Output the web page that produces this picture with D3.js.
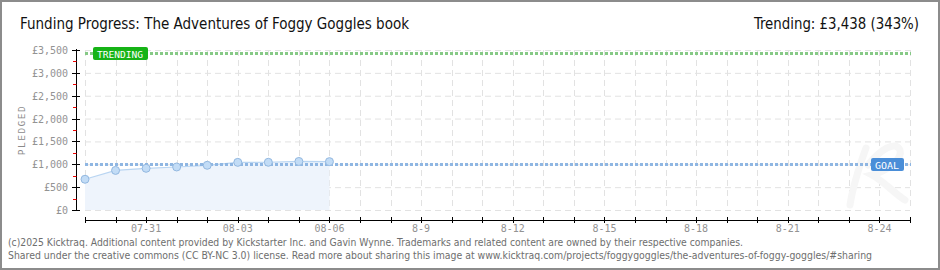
<!DOCTYPE html>
<html>
<head>
<meta charset="utf-8">
<script src="https://cdn.jsdelivr.net/npm/d3@7"></script>
<style>
  html, body { margin: 0; padding: 0; background: #fff; }
  svg { display: block; }
  .tick-label { font-family: "DejaVu Sans Mono", monospace; font-size: 10px; fill: #939393; }
</style>
</head>
<body>
<svg id="chart" width="940" height="270"></svg>
<script>
// Chart data.
const dates       = [ '2025-07-29', '2025-07-30', '2025-07-31', '2025-08-01', '2025-08-02',
                      '2025-08-03', '2025-08-04', '2025-08-05', '2025-08-06' ];
const pledged     = [ 672, 866, 912, 941, 978, 1042, 1044, 1062, 1058 ];
const goal        = 1000;
const trending    = 3438;
const trendingPct = 343;
const yTicks      = [ 0, 500, 1000, 1500, 2000, 2500, 3000, 3500 ];
const xLabelDates = [ '2025-07-31', '2025-08-03', '2025-08-06', '2025-08-09', '2025-08-12',
                      '2025-08-15', '2025-08-18', '2025-08-21', '2025-08-24' ];
const xLabelText  = [ '07-31', '08-03', '08-06', '8-9', '8-12', '8-15', '8-18', '8-21', '8-24' ];
const domainDates = [ '2025-07-29', '2025-08-25' ];

class ChartBuilder {

  constructor ( ) {
    this.parse  = d3.utcParse( '%Y-%m-%d' );
    this.data   = dates.map( ( d, i ) => ( { date: this.parse( d ), value: pledged[ i ] } ) );
    this.svg    = d3.select( '#chart' );
    this.left   = 85;
    this.right  = 910;
    this.top    = 50;
    this.bottom = 210;
  }

  setScales ( ) {
    this.x = d3.scaleUtc( )
      .domain( domainDates.map( this.parse ) )
      .range( [ this.left, this.right ] );
    this.y = d3.scaleLinear( )
      .domain( [ 0, 3500 ] )
      .range( [ this.bottom, this.top ] );
    this.days = d3.utcDay.range( this.x.domain( )[ 0 ], d3.utcDay.offset( this.x.domain( )[ 1 ], 1 ) );
    return this;
  }

  // Frame, title and footer texts.
  drawFrame ( ) {
    this.svg.append( 'rect' )
      .attr( 'x', 1 ).attr( 'y', 1 ).attr( 'width', 938 ).attr( 'height', 268 )
      .attr( 'fill', '#fff' ).attr( 'stroke', '#8c8c8c' ).attr( 'stroke-width', 2 );
    const head = { 'font-family': '"DejaVu Sans Condensed", "Liberation Sans Narrow", sans-serif',
                   'font-size': '16px', fill: '#111' };
    const title = this.svg.append( 'text' )
      .attr( 'x', 20 ).attr( 'y', 29 )
      .attr( 'textLength', 389 ).attr( 'lengthAdjust', 'spacingAndGlyphs' )
      .text( 'Funding Progress: The Adventures of Foggy Goggles book' );
    const trend = this.svg.append( 'text' )
      .attr( 'x', 754 ).attr( 'y', 29 )
      .attr( 'textLength', 165 ).attr( 'lengthAdjust', 'spacingAndGlyphs' )
      .text( `Trending: £${d3.format( ',' )( trending )} (${trendingPct}%)` );
    Object.entries( head ).forEach( ( [ k, v ] ) => { title.attr( k, v ); trend.attr( k, v ); } );

    const foot = [
      { y: 246, w: 735, t: '(c)2025 Kicktraq. Additional content provided by Kickstarter Inc. and Gavin Wynne. Trademarks and related content are owned by their respective companies.' },
      { y: 259, w: 864, t: 'Shared under the creative commons (CC BY-NC 3.0) license. Read more about sharing this image at www.kicktraq.com/projects/foggygoggles/the-adventures-of-foggy-goggles/#sharing' }
    ];
    this.svg.selectAll( '.foot' ).data( foot ).enter( ).append( 'text' )
      .attr( 'class', 'foot' )
      .attr( 'x', 8 ).attr( 'y', d => d.y )
      .attr( 'textLength', d => d.w ).attr( 'lengthAdjust', 'spacingAndGlyphs' )
      .attr( 'font-family', '"DejaVu Sans Condensed", "Liberation Sans Narrow", sans-serif' )
      .attr( 'font-size', '10px' ).attr( 'fill', '#6e6e6e' )
      .text( d => d.t );
    return this;
  }

  drawGrid ( ) {
    const g = this.svg.append( 'g' ).attr( 'stroke', '#e2e2e2' ).attr( 'stroke-dasharray', '6,4' );
    g.selectAll( '.hg' ).data( yTicks ).enter( ).append( 'line' )
      .attr( 'x1', this.left ).attr( 'x2', this.right )
      .attr( 'y1', d => this.y( d ) + 0.5 ).attr( 'y2', d => this.y( d ) + 0.5 );
    g.selectAll( '.vg' ).data( this.days ).enter( ).append( 'line' )
      .attr( 'x1', d => Math.round( this.x( d ) ) + 0.5 ).attr( 'x2', d => Math.round( this.x( d ) ) + 0.5 )
      .attr( 'y1', this.top ).attr( 'y2', this.bottom );
    // faint watermark, drawn as strokes so it stays out of the text layer
    this.svg.append( 'path' )
      .attr( 'd', 'M866,148 C858,170 852,192 850,205 M868,165 C880,150 895,140 900,150 C903,160 885,172 872,175 C885,182 896,195 905,200' )
      .attr( 'fill', 'none' ).attr( 'stroke', '#f6f6f6' ).attr( 'stroke-width', 7 )
      .attr( 'stroke-linecap', 'round' );
    return this;
  }

  drawAxes ( ) {
    const ax = 76.5;
    const yAxis = this.svg.append( 'g' );
    yAxis.append( 'line' )
      .attr( 'x1', ax ).attr( 'x2', ax ).attr( 'y1', this.top - 1 ).attr( 'y2', this.bottom + 1 )
      .attr( 'stroke', '#000' );
    yAxis.selectAll( '.minor' ).data( d3.range( 250, 3500, 500 ) ).enter( ).append( 'line' )
      .attr( 'x1', 73 ).attr( 'x2', ax )
      .attr( 'y1', d => Math.round( this.y( d ) ) + 0.5 ).attr( 'y2', d => Math.round( this.y( d ) ) + 0.5 )
      .attr( 'stroke', '#f00000' );
    yAxis.selectAll( '.major' ).data( yTicks ).enter( ).append( 'line' )
      .attr( 'x1', 72 ).attr( 'x2', 80 )
      .attr( 'y1', d => Math.round( this.y( d ) ) + 0.5 ).attr( 'y2', d => Math.round( this.y( d ) ) + 0.5 )
      .attr( 'stroke', '#000' );
    yAxis.selectAll( '.tick-label' ).data( yTicks ).enter( ).append( 'text' )
      .attr( 'class', 'tick-label' )
      .attr( 'x', 68 ).attr( 'y', d => this.y( d ) + 4 )
      .attr( 'text-anchor', 'end' )
      .text( d => `£${d3.format( ',' )( d )}` );
    this.svg.append( 'text' )
      .attr( 'transform', `translate( 25, ${( this.top + this.bottom ) / 2} ) rotate( -90 )` )
      .attr( 'text-anchor', 'middle' )
      .attr( 'font-family', '"DejaVu Sans Mono", monospace' ).attr( 'font-size', '9.5px' )
      .attr( 'letter-spacing', '1.5' ).attr( 'fill', '#8a8a8a' )
      .text( 'PLEDGED' );

    const xAxis = d3.axisBottom( this.x )
      .tickValues( this.days )
      .tickSizeInner( 3 ).tickSizeOuter( 0 )
      .tickFormat( '' );
    const gx = this.svg.append( 'g' )
      .attr( 'transform', 'translate( 0, 220 )' )
      .call( xAxis );
    gx.select( '.domain' ).attr( 'd', `M${this.left},0.5H${this.right}` ).attr( 'stroke', '#000' );
    gx.selectAll( '.tick line' ).attr( 'y1', -3 ).attr( 'y2', 3 ).attr( 'stroke', '#000' );
    gx.selectAll( '.tick' ).attr( 'transform', d => `translate( ${Math.round( this.x( d ) ) + 0.5}, 0 )` );
    this.svg.selectAll( '.x-label' ).data( xLabelDates ).enter( ).append( 'text' )
      .attr( 'class', 'tick-label' )
      .attr( 'x', d => this.x( this.parse( d ) ) )
      .attr( 'y', 232 ).attr( 'text-anchor', 'middle' )
      .text( ( d, i ) => xLabelText[ i ] );
    return this;
  }

  drawSeries ( ) {
    const area = d3.area( ).x( d => this.x( d.date ) ).y0( this.y( 0 ) ).y1( d => this.y( d.value ) );
    const line = d3.line( ).x( d => this.x( d.date ) ).y( d => this.y( d.value ) );
    this.svg.append( 'path' ).datum( this.data ).attr( 'd', area ).attr( 'fill', '#eef4fc' );
    this.svg.append( 'path' ).datum( this.data ).attr( 'd', line )
      .attr( 'fill', 'none' ).attr( 'stroke', '#b9d5f2' ).attr( 'stroke-width', 1.2 );
    return this;
  }

  // Dotted reference lines with their label boxes.
  drawMarkers ( ) {
    const marks = [
      { value: trending, line: '#86c986', box: '#16b316', text: 'TRENDING', bx: 93,  bw: 55 },
      { value: goal,     line: '#8fb6e2', box: '#4a8ed8', text: 'GOAL',     bx: 871, bw: 33 }
    ];
    marks.forEach( m => {
      const yy = Math.round( this.y( m.value ) ) + 0.5;
      this.svg.append( 'line' )
        .attr( 'x1', this.left ).attr( 'x2', this.right + 1 )
        .attr( 'y1', yy ).attr( 'y2', yy )
        .attr( 'stroke', m.line ).attr( 'stroke-width', 3 ).attr( 'stroke-dasharray', '3,2' );
      this.svg.append( 'rect' )
        .attr( 'x', m.bx ).attr( 'y', yy - 6.5 ).attr( 'width', m.bw ).attr( 'height', 13 )
        .attr( 'rx', 2 ).attr( 'fill', m.box );
      this.svg.append( 'text' )
        .attr( 'x', m.bx + 4 ).attr( 'y', yy + 4 )
        .attr( 'font-family', '"DejaVu Sans Mono", monospace' ).attr( 'font-size', '9.5px' )
        .attr( 'fill', '#fff' )
        .attr( 'textLength', m.bw - 9 ).attr( 'lengthAdjust', 'spacingAndGlyphs' )
        .text( m.text );
    } );
    return this;
  }

  drawPoints ( ) {
    this.svg.selectAll( '.pt' ).data( this.data ).enter( ).append( 'circle' )
      .attr( 'class', 'pt' )
      .attr( 'cx', d => this.x( d.date ) ).attr( 'cy', d => this.y( d.value ) )
      .attr( 'r', 4 )
      .attr( 'fill', '#c2dcf6' ).attr( 'stroke', '#93b8e0' ).attr( 'stroke-width', 1 );
    return this;
  }
}

new ChartBuilder( ).setScales( ).drawFrame( ).drawGrid( ).drawSeries( )
  .drawAxes( ).drawMarkers( ).drawPoints( );
</script>
</body>
</html>
